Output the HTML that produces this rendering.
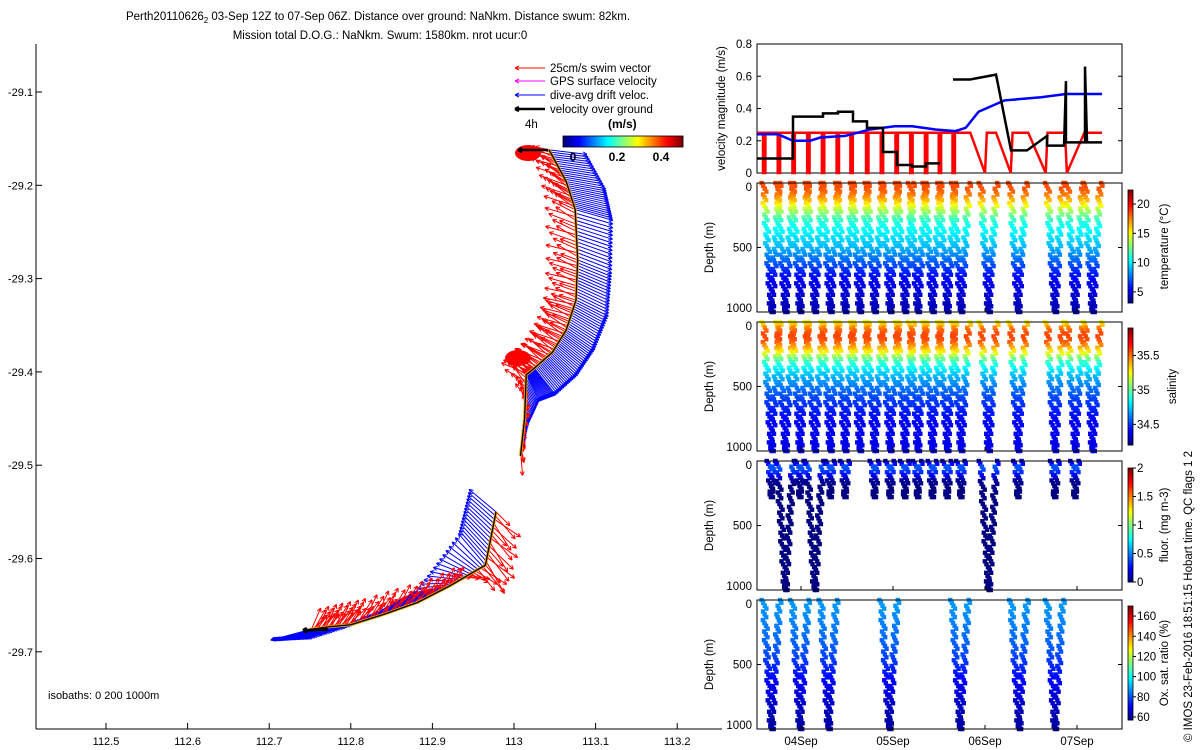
<!DOCTYPE html>
<html><head><meta charset="utf-8"><style>
body{margin:0;background:#fff;}
svg{display:block;font-family:"Liberation Sans",sans-serif;}
</style></head><body>
<svg id="fig" width="1200" height="750" viewBox="0 0 1200 750" xmlns="http://www.w3.org/2000/svg">
<rect width="1200" height="750" fill="#fff"/>
<text x="378" y="20" font-size="11.5" text-anchor="middle">Perth20110626<tspan font-size="8" dy="3">2</tspan><tspan dy="-3"> 03-Sep 12Z to 07-Sep 06Z. Distance over ground: NaNkm. Distance swum: 82km.</tspan></text>
<text x="380" y="39" font-size="11.5" text-anchor="middle">Mission total D.O.G.: NaNkm. Swum: 1580km. nrot ucur:0</text>
<g id="map"></g>
<g id="vel"></g>
<g id="depth"></g>
<text transform="translate(1192,742) rotate(-90)" font-size="11.5">© IMOS 23-Feb-2016 18:51:15 Hobart time. QC flags 1  2</text>
</svg>
<script>
// ---------------- DATA ----------------
const northLon=[113.043,113.064,113.075,113.078,113.076,113.064,113.047,113.025,113.015,113.013,113.008];
const northLat=[-29.162,-29.196,-29.226,-29.280,-29.323,-29.355,-29.379,-29.396,-29.403,-29.450,-29.490];
const northDriftU=[0.42,0.44,0.42,0.38,0.36,0.32,0.28,0.24,0.14,0.05,0.03];
const northDriftV=[-0.05,-0.08,-0.12,-0.15,-0.18,-0.22,-0.26,-0.30,-0.30,-0.05,0.10];
const northSwimU=[-0.22,-0.24,-0.26,-0.27,-0.27,-0.26,-0.25,-0.24,-0.22,0.05,0.02];
const northSwimV=[0.05,0.14,0.12,0.10,0.08,0.12,0.14,0.16,0.14,0.20,-0.22];
const southLon=[112.978,112.965,112.922,112.882,112.840,112.800,112.775,112.750];
const southLat=[-29.550,-29.607,-29.629,-29.647,-29.660,-29.671,-29.673,-29.676];
const southDriftU=[-0.30,-0.30,-0.40,-0.45,-0.45,-0.48,-0.50,-0.45];
const southDriftV=[0.25,0.35,-0.08,-0.12,-0.14,-0.15,-0.14,-0.12];
const southSwimU=[0.22,0.24,0.14,0.16,0.16,0.16,0.14,0.12];
const southSwimV=[-0.22,-0.28,0.18,0.20,0.22,0.22,0.20,0.18];
const lonTicks=[112.5,112.6,112.7,112.8,112.9,113,113.1,113.2];
const latTicks=[-29.1,-29.2,-29.3,-29.4,-29.5,-29.6,-29.7];
const blackT=[-0.478,-0.087,-0.087,0.239,0.239,0.402,0.402,0.565,0.565,0.717,0.717,0.891,0.891,1.043,1.043,1.207,1.207,1.359,1.359,1.511,null,1.652,1.837,2.120,2.283,2.457,2.674,2.674,2.859,2.880,2.880,3.087,3.087,3.109,3.272];
const blackV=[0.09,0.09,0.35,0.35,0.37,0.37,0.38,0.38,0.32,0.32,0.28,0.28,0.13,0.13,0.05,0.05,0.04,0.04,0.06,0.06,null,0.58,0.58,0.61,0.14,0.14,0.23,0.17,0.17,0.57,0.19,0.19,0.66,0.19,0.19];
const blueT=[-0.478,-0.25,-0.087,0.10,0.21,0.48,0.75,1.02,1.21,1.46,1.68,1.79,1.93,2.21,2.61,2.88,3.272];
const blueV=[0.24,0.24,0.20,0.20,0.22,0.23,0.27,0.29,0.29,0.27,0.26,0.28,0.38,0.45,0.47,0.49,0.49];
const redDipT=[-0.40,-0.24,-0.08,0.08,0.24,0.40,0.55,0.72,0.88,1.04,1.20,1.36,1.51,1.66];
const redT=[1.70,1.84,2.00,2.02,2.12,2.28,2.30,2.47,2.66,2.68,2.87,2.89,3.08,3.10,3.272];
const redV=[0.25,0.25,0.0,0.25,0.25,0.0,0.25,0.25,0.0,0.25,0.25,0.0,0.25,0.25,0.25];
const velTicks=[0,0.2,0.4,0.6,0.8];
const dayTicks=[0,1,2,3];
const dayLabels=["04Sep","05Sep","06Sep","07Sep"];
const tsDives=[-0.32,-0.17,-0.01,0.15,0.32,0.48,0.64,0.80,0.97,1.13,1.27,1.43,1.59,1.74,2.04,2.36,2.76,2.98,3.17];
const fluorDeepDives=[-0.17,0.15,2.04];
const fluorShallowDives=[-0.32,-0.01,0.32,0.48,0.80,0.97,1.13,1.27,1.43,1.59,1.74,2.36,2.76,2.98];
const oxyDives=[-0.32,-0.01,0.30,0.96,1.73,2.37,2.76];
const profDepth=[0,50,100,150,200,250,300,400,500,600,700,800,900,1000];
const tempProf=[18.6,18.4,17.5,16,14,12.5,11,10,9,7.5,6,5,4.5,4];
const salProf=[35.25,35.5,35.58,35.55,35.4,35.2,34.95,34.75,34.62,34.52,34.45,34.4,34.38,34.37];
const fluorProf=[0.1,0.45,0.3,0.05,0,0,0,0,0,0,0,0,0,0];
const oxyProf=[88,88,87,86,85,84,83,80,76,72,68,65,62,61];
// ---------------- HELPERS ----------------
const NS="http://www.w3.org/2000/svg";
function mk(tag,attrs,parent){const e=document.createElementNS(NS,tag);for(const k in attrs)e.setAttribute(k,attrs[k]);parent.appendChild(e);return e;}
function jet(f){f=Math.max(0,Math.min(1,f));const r=Math.max(0,Math.min(1,1.5-Math.abs(4*f-3)));const g=Math.max(0,Math.min(1,1.5-Math.abs(4*f-2)));const b=Math.max(0,Math.min(1,1.5-Math.abs(4*f-1)));return `rgb(${Math.round(r*255)},${Math.round(g*255)},${Math.round(b*255)})`;}
function interp(xs,ys,x){for(let i=1;i<xs.length;i++){if(x<=xs[i]){const f=(x-xs[i-1])/(xs[i]-xs[i-1]);return ys[i-1]+f*(ys[i]-ys[i-1]);}}return ys[ys.length-1];}
// ---------------- MAP ----------------
const map=document.getElementById('map');
const MX=lon=>106+(lon-112.5)*816, MY=lat=>92+(-29.1-lat)*933;
mk('line',{x1:36,y1:44,x2:36,y2:729,stroke:'#000'},map);
mk('line',{x1:36,y1:729,x2:722,y2:729,stroke:'#000'},map);
lonTicks.forEach(v=>{const x=MX(v);
 let l=mk('line',{x1:x,y1:729,x2:x,y2:723,stroke:'#000'},map);
 
 let t=mk('text',{x:x,y:745,'font-size':11,'text-anchor':'middle'},map);t.textContent=String(v);
 });
latTicks.forEach(v=>{const y=MY(v);
 let l=mk('line',{x1:36,y1:y,x2:42,y2:y,stroke:'#000'},map);
 
 let t=mk('text',{x:33,y:y+4,'font-size':11,'text-anchor':'end'},map);t.textContent=v.toFixed(1);
 });
let iso=mk('text',{x:48,y:699,'font-size':11},map);iso.textContent='isobaths: 0   200  1000m';

const SC=90;
function arrow(g,x,y,dx,dy,col,w){const L=Math.hypot(dx,dy)||1;const ux=dx/L,uy=dy/L;const hx=x+dx,hy=y+dy;const a=4;
 const p=`M${x},${y}L${hx},${hy}M${hx},${hy}L${hx-a*ux-a*0.5*uy},${hy-a*uy+a*0.5*ux}M${hx},${hy}L${hx-a*ux+a*0.5*uy},${hy-a*uy-a*0.5*ux}`;
 const e=mk('path',{d:p,stroke:col,'stroke-width':w||1,fill:'none'},g);}
function track(lon,lat,du,dv,su,sv,name){
 const g=mk('g',{},map);
 const steps=14;
 for(let i=0;i<lon.length-1;i++){for(let k=0;k<steps;k++){const f=k/steps;
  const x=MX(lon[i]+f*(lon[i+1]-lon[i])),y=MY(lat[i]+f*(lat[i+1]-lat[i]));
  const u=du[i]+f*(du[i+1]-du[i]),v=dv[i]+f*(dv[i+1]-dv[i]);
  arrow(g,x,y,u*SC,-v*SC,'#0000ff',1);}}
 for(let i=0;i<lon.length-1;i++){for(let k=0;k<steps;k++){const f=k/steps;
  const x=MX(lon[i]+f*(lon[i+1]-lon[i])),y=MY(lat[i]+f*(lat[i+1]-lat[i]));
  const u=su[i]+f*(su[i+1]-su[i]),v=sv[i]+f*(sv[i+1]-sv[i]);
  const j1=0.7+0.6*((k*7)%5)/4, j2=0.7+0.6*((k*3)%5)/4;
  arrow(g,x,y,u*SC*j1,-v*SC*j2,'#ff0000',1);}}
 let d='';lon.forEach((v,i)=>{d+=(i?'L':'M')+MX(v)+','+MY(lat[i]);});
 const o=mk('path',{d:d,stroke:'#f0a000',fill:'none','stroke-width':3},g);
 const p=mk('path',{d:d,stroke:'#000',fill:'none','stroke-width':1.3},g);
}
track(northLon,northLat,northDriftU,northDriftV,northSwimU,northSwimV,'north-track');
track(southLon,southLat,southDriftU,southDriftV,southSwimU,southSwimV,'south-track');
[[528,153],[518,358]].forEach(c=>{const e=mk('ellipse',{cx:c[0],cy:c[1],rx:13,ry:8,fill:'#ff0000'},map);});
arrow(map,MX(southLon[southLon.length-1])+18,MY(southLat[southLat.length-1]),-25,1,'#000',3);
arrow(map,548,150,-30,0,'#000',2.5);
const leg=[['#ff0000','25cm/s swim vector',68],['#ff00ff','GPS surface velocity',81],['#0000ff','dive-avg drift veloc.',95],['#000','velocity over ground',109]];
leg.forEach(l=>{arrow(map,545,l[2],-30,0,l[0],l[0]=='#000'?2.5:1);
 const t=mk('text',{x:550,y:l[2]+4,'font-size':11.5},map);t.textContent=l[1];});
let t4=mk('text',{x:525,y:128,'font-size':11.5},map);t4.textContent='4h';
let tms=mk('text',{x:608,y:128,'font-size':12,'font-weight':'bold'},map);tms.textContent='(m/s)';
for(let i=0;i<60;i++){const r=mk('rect',{x:563+i*2,y:136,width:2.2,height:11,fill:jet(i/59)},map);}
mk('rect',{x:563,y:136,width:120,height:11,fill:'none',stroke:'#000','stroke-width':0.8},map);
[['0',573],['0.2',617],['0.4',661]].forEach(k=>{const t=mk('text',{x:k[1],y:161,'font-size':12,'font-weight':'bold','text-anchor':'middle'},map);t.textContent=k[0];});
// ---------------- VELOCITY PANEL ----------------
const vel=document.getElementById('vel');
const TX=t=>801+92*t;
const VL=757,VR=1122,VT=44,VB=173;
const VY=v=>VB-v*(VB-VT)/0.8;
mk('rect',{x:VL,y:VT,width:VR-VL,height:VB-VT,fill:'none',stroke:'#000'},vel);
velTicks.forEach(v=>{const y=VY(v);
 let l=mk('path',{d:`M${VL},${y}h4M${VR},${y}h-4`,stroke:'#000'},vel);
 let t=mk('text',{x:752,y:y+4,'font-size':11.5,'text-anchor':'end'},vel);t.textContent=String(v);});
let vlab=mk('text',{transform:`translate(725,${(VT+VB)/2}) rotate(-90)`,'font-size':11.5,'text-anchor':'middle'},vel);vlab.textContent='velocity magnitude (m/s)';

let rd=`M${TX(-0.478)},${VY(0.25)}`;
redDipT.forEach(t=>{rd+=`L${TX(t)-1.2},${VY(0.25)}L${TX(t)-1.2},${VY(0)}L${TX(t)+1.2},${VY(0)}L${TX(t)+1.2},${VY(0.25)}`;});
redT.forEach((t,i)=>{rd+=`L${TX(t)},${VY(redV[i])}`;});
const redPath=mk('path',{d:rd,stroke:'#ff0000','stroke-width':2.5,fill:'none'},vel);
function series(ts,vs,col,w,name){let d='',pen=false;ts.forEach((t,i)=>{if(t===null){pen=false;return;}d+=(pen?'L':'M')+TX(t)+','+VY(vs[i]);pen=true;});
 const e=mk('path',{d:d,stroke:col,'stroke-width':w,fill:'none'},vel);}
series(blueT,blueV,'#0000ff',2.5,'drift-speed-line');
series(blackT,blackV,'#000',2.5,'ground-speed-line');
// ---------------- DEPTH PANELS ----------------
const dep=document.getElementById('depth');
const panels=[
 {top:183,name:'temperature',prof:tempProf,vmin:3.1,vmax:22.4,dives:tsDives,shallow:[],cbTop:190,cbBot:303,ticks:[5,10,15,20],label:'temperature (°C)',lx:1168},
 {top:322,name:'salinity',prof:salProf,vmin:34.2,vmax:35.9,dives:tsDives,shallow:[],cbTop:328,cbBot:445,ticks:[34.5,35,35.5],label:'salinity',lx:1176},
 {top:461,name:'fluorescence',prof:fluorProf,vmin:0,vmax:2,dives:fluorDeepDives,shallow:fluorShallowDives,cbTop:468,cbBot:582,ticks:[0,0.5,1,1.5,2],label:'fluor. (mg m-3)',lx:1168},
 {top:600,name:'oxygen',prof:oxyProf,vmin:57,vmax:170,dives:oxyDives,shallow:[],cbTop:606,cbBot:720,ticks:[60,80,100,120,140,160],label:'Ox. sat. ratio (%)',lx:1168}];
const PH=129,HW=0.085;
panels.forEach(P=>{
 const g=mk('g',{},dep);
 const DY=d=>P.top+d/1000*PH;
 const pts=mk('g',{},g);
 function dive(tb,dmax,hw){const n=Math.round(dmax/22);
  for(let i=0;i<=n;i++){const f=i/n;const depth=dmax*f;const val=interp(profDepth,P.prof,depth);const col=jet((val-P.vmin)/(P.vmax-P.vmin));
   [tb-hw*(1-f),tb+hw*(1-f)].forEach((t,s)=>{const jx=(((i*37+s*11)%7)-3)*0.7;const x=TX(t)+jx;if(x<VL+1||x>VR-1)return;
    const c=mk('rect',{x:x-2.2,y:DY(depth)-2.2,width:4.4,height:4.4,fill:col},pts);
    });}}
 P.dives.forEach(t=>dive(t,1000,HW));
 P.shallow.forEach(t=>dive(t,280,0.03));
 mk('rect',{x:VL,y:P.top,width:VR-VL,height:PH,fill:'none',stroke:'#000'},g);
 [0,500,1000].forEach(d=>{const y=DY(d);
  let l=mk('path',{d:`M${VL},${y}h4M${VR},${y}h-4`,stroke:'#000'},g);
  let t=mk('text',{x:752,y:y+(d==0?8:d==1000?0:4),'font-size':11.5,'text-anchor':'end'},g);t.textContent=String(d);});
 let yl=mk('text',{transform:`translate(713,${P.top+PH/2}) rotate(-90)`,'font-size':11.5,'text-anchor':'middle'},g);yl.textContent='Depth (m)';
 
 dayTicks.forEach(t=>{let l=mk('path',{d:`M${TX(t)},${P.top+PH}v-4`,stroke:'#000'},g);});
 const cb=mk('g',{},g);
 const N=40,h=(P.cbBot-P.cbTop)/N;
 for(let i=0;i<N;i++){const r=mk('rect',{x:1128,y:P.cbBot-(i+1)*h,width:5,height:h+0.4,fill:jet((i+0.5)/N)},cb);}
 mk('rect',{x:1128,y:P.cbTop,width:5,height:P.cbBot-P.cbTop,fill:'none',stroke:'#000','stroke-width':0.8},cb);
 P.ticks.forEach(v=>{const y=P.cbBot-(v-P.vmin)/(P.vmax-P.vmin)*(P.cbBot-P.cbTop);
  let l=mk('path',{d:`M1133,${y}h3`,stroke:'#000'},cb);
  let t=mk('text',{x:1137,y:y+4,'font-size':11.5},cb);t.textContent=String(v);});
 let cl=mk('text',{transform:`translate(${P.lx},${(P.cbTop+P.cbBot)/2}) rotate(-90)`,'font-size':11.5,'text-anchor':'middle'},cb);cl.textContent=P.label;
 
});
dayTicks.forEach((t,i)=>{let e=mk('text',{x:TX(t),y:745,'font-size':11.5,'text-anchor':'middle'},dep);e.textContent=dayLabels[i];
 });
</script>
</body></html>
